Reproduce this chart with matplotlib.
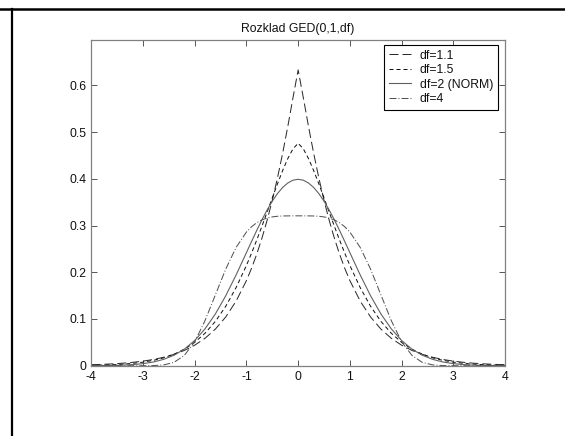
import matplotlib
matplotlib.use("Agg")
import matplotlib.pyplot as plt
from matplotlib.lines import Line2D

plt.rcParams['font.family'] = ['Liberation Sans', 'DejaVu Sans']
plt.rcParams['axes.unicode_minus'] = False
plt.rcParams['lines.scale_dashes'] = False

title = "Rozklad GED(0,1,df)"
labels = ["df=1.1", "df=1.5", "df=2 (NORM)", "df=4"]

x = [-4.0, -3.8, -3.6, -3.4, -3.2, -3.0, -2.8, -2.6, -2.4, -2.2, -2.0, -1.8, -1.6, -1.4, -1.2,
     -1.0, -0.9, -0.8, -0.7, -0.6, -0.5, -0.4, -0.3, -0.2, -0.1,
     0.0,
     0.1, 0.2, 0.3, 0.4, 0.5, 0.6, 0.7, 0.8, 0.9, 1.0,
     1.2, 1.4, 1.6, 1.8, 2.0, 2.2, 2.4, 2.6, 2.8, 3.0, 3.2, 3.4, 3.6, 3.8, 4.0]

df11 = [0.0021, 0.0028, 0.0039, 0.0053, 0.0072, 0.0098, 0.0133, 0.0180, 0.0243, 0.0327,
        0.0439, 0.0587, 0.0784, 0.1043, 0.1382, 0.1822, 0.2088, 0.2389, 0.2729, 0.3112,
        0.3540, 0.4018, 0.4545, 0.5120, 0.5734,
        0.6330,
        0.5734, 0.5120, 0.4545, 0.4018, 0.3540, 0.3112, 0.2729, 0.2389, 0.2088, 0.1822,
        0.1382, 0.1043, 0.0784, 0.0587, 0.0439, 0.0327, 0.0243, 0.0180, 0.0133, 0.0098,
        0.0072, 0.0053, 0.0039, 0.0028, 0.0021]

df15 = [0.0008, 0.0013, 0.0021, 0.0032, 0.0050, 0.0076, 0.0114, 0.0169, 0.0246, 0.0354,
        0.0500, 0.0696, 0.0949, 0.1272, 0.1671, 0.2146, 0.2411, 0.2692, 0.2985, 0.3287,
        0.3592, 0.3891, 0.4176, 0.4433, 0.4641,
        0.4760,
        0.4641, 0.4433, 0.4176, 0.3891, 0.3592, 0.3287, 0.2985, 0.2692, 0.2411, 0.2146,
        0.1671, 0.1272, 0.0949, 0.0696, 0.0500, 0.0354, 0.0246, 0.0169, 0.0114, 0.0076,
        0.0050, 0.0032, 0.0021, 0.0013, 0.0008]

df2 = [0.0001, 0.0003, 0.0006, 0.0012, 0.0024, 0.0044, 0.0079, 0.0136, 0.0224, 0.0355,
       0.0540, 0.0790, 0.1109, 0.1497, 0.1942, 0.2420, 0.2661, 0.2897, 0.3123, 0.3332,
       0.3521, 0.3683, 0.3814, 0.3910, 0.3970,
       0.3989,
       0.3970, 0.3910, 0.3814, 0.3683, 0.3521, 0.3332, 0.3123, 0.2897, 0.2661, 0.2420,
       0.1942, 0.1497, 0.1109, 0.0790, 0.0540, 0.0355, 0.0224, 0.0136, 0.0079, 0.0044,
       0.0024, 0.0012, 0.0006, 0.0003, 0.0001]

df4 = [0.0000, 0.0000, 0.0000, 0.0000, 0.0000, 0.0000, 0.0003, 0.0017, 0.0072, 0.0221,
       0.0515, 0.0967, 0.1517, 0.2068, 0.2531, 0.2861, 0.2975, 0.3060, 0.3120, 0.3160,
       0.3184, 0.3198, 0.3204, 0.3206, 0.3207,
       0.3207,
       0.3207, 0.3206, 0.3204, 0.3198, 0.3184, 0.3160, 0.3120, 0.3060, 0.2975, 0.2861,
       0.2531, 0.2068, 0.1517, 0.0967, 0.0515, 0.0221, 0.0072, 0.0017, 0.0003, 0.0000,
       0.0000, 0.0000, 0.0000, 0.0000, 0.0000]

xticks = [-4, -3, -2, -1, 0, 1, 2, 3, 4]
xticklabels = ["-4", "-3", "-2", "-1", "0", "1", "2", "3", "4"]
yticks = [0, 0.1, 0.2, 0.3, 0.4, 0.5, 0.6]
yticklabels = ["0", "0.1", "0.2", "0.3", "0.4", "0.5", "0.6"]

W, H = 565, 436
fig = plt.figure(figsize=(W / 100, H / 100), dpi=100)
fig.patch.set_facecolor('white')

left, right, top, bottom = 91.3, 505.0, 40.0, 365.7
ax = fig.add_axes([left / W, 1 - bottom / H, (right - left) / W, (bottom - top) / H])

FS = 8.8
px = 0.72
ax.plot(x, df11, color='#2a2a2a', lw=1.0 * px, dashes=(9 * px, 4 * px), label=labels[0])
ax.plot(x, df15, color='#111111', lw=1.0 * px, dashes=(4 * px, 3 * px), label=labels[1])
ax.plot(x, df2, color='#606060', lw=1.1 * px, linestyle='-', label=labels[2])
ax.plot(x, df4, color='#505050', lw=1.0 * px, dashes=(7 * px, 2 * px, 1 * px, 2 * px), label=labels[3])

ax.set_xlim(-4, 4)
ax.set_ylim(0, 0.697)
ax.set_xticks(xticks)
ax.set_xticklabels(xticklabels)
ax.set_yticks(yticks)
ax.set_yticklabels(yticklabels)
ax.tick_params(direction='in', length=4, width=0.7, color='#555555', labelsize=FS,
               labelcolor='#111111', top=True, right=True, pad=3.5)
for sp in ax.spines.values():
    sp.set_color('#808080')
    sp.set_linewidth(0.9)

ax.set_title(title, fontsize=FS, color='#111111', pad=6)

leg = ax.legend(loc='upper right', bbox_to_anchor=(0.983, 0.985), borderaxespad=0,
                fontsize=FS, frameon=True, fancybox=False, framealpha=1,
                edgecolor='black', handlelength=1.75, handletextpad=0.75,
                labelspacing=0.2, borderpad=0.4)
leg.get_frame().set_linewidth(0.8)
for t in leg.get_texts():
    t.set_color('#111111')

# outer frame lines of the page
yl = 1 - 9.5 / H
fig.add_artist(Line2D([0, 1], [yl, yl], transform=fig.transFigure, color='black', lw=1.8))
xl = 12.0 / W
fig.add_artist(Line2D([xl, xl], [0, yl], transform=fig.transFigure, color='black', lw=1.6))

fig.savefig("out.png", dpi=100, facecolor='white')
